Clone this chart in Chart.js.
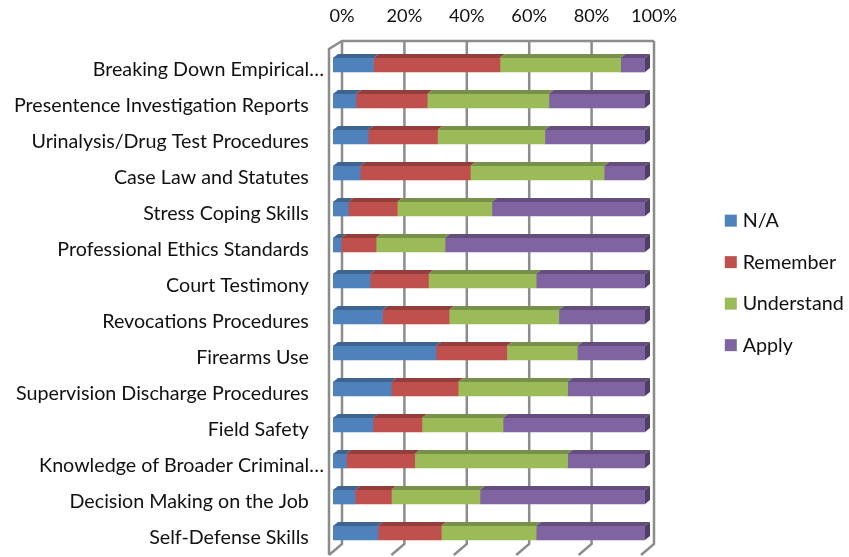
<!DOCTYPE html>
<html>
<head>
<meta charset="utf-8">
<script src="https://cdn.jsdelivr.net/npm/chart.js@4"></script>
<style>
    html, body { margin: 0; padding: 0; background: #fff; }
    #wrap { width: 849px; height: 557px; }
</style>
</head>
<body>
<div id="wrap"><canvas id="skillsChart"></canvas></div>
<script>
const categories = [
    'Breaking Down Empirical…',
    'Presentence Investigation Reports',
    'Urinalysis/Drug Test Procedures',
    'Case Law and Statutes',
    'Stress Coping Skills',
    'Professional Ethics Standards',
    'Court Testimony',
    'Revocations Procedures',
    'Firearms Use',
    'Supervision Discharge Procedures',
    'Field Safety',
    'Knowledge of Broader Criminal…',
    'Decision Making on the Job',
    'Self-Defense Skills'
];
const naValues = [13, 7.4, 11.3, 8.7, 4.9, 2.6, 11.9, 15.9, 33, 18.7, 12.8, 4.3, 7.1, 14.4];
const rememberValues = [40.5, 22.8, 22.2, 35.3, 15.7, 11.2, 18.7, 21.3, 22.7, 21.4, 15.7, 21.9, 11.6, 20.3];
const understandValues = [38.7, 39, 34.4, 42.9, 30.3, 22.1, 34.5, 35.2, 22.6, 35.1, 26, 49, 28.4, 30.4];
const applyValues = [7.8, 30.8, 32.1, 13.1, 49.1, 64.1, 34.9, 27.6, 21.7, 24.8, 45.5, 24.8, 52.9, 34.9];

const seriesNames = ['N/A', 'Remember', 'Understand', 'Apply'];
const seriesColors = ['#4f81bd', '#c0504d', '#9bbb59', '#8064a2'];
const topColors = ['#3e6590', '#943e3b', '#78914a', '#634e7e'];
const sideColor = '#4f3f66';
const wallColor = '#8c8c8c';
const labelFont = { family: "Lato, 'Open Sans', sans-serif", size: 19.7 };
const tickFont = { family: "Lato, 'Open Sans', sans-serif", size: 18.2 };

// the old 3D look: back wall, floor ticks, then the top and side faces of each bar
const wallPlugin = {
    id: 'wall',
    afterLayout(chart) {
        const legend = chart.legend;
        legend.left = 707;
        legend.right = 849;
        legend.top = 189;
        legend.bottom = 400;
    },
    beforeDatasetsDraw(chart) {
        const { ctx, chartArea, scales } = chart;
        const backTop = chartArea.top - 6;
        const backBottom = chartArea.bottom - 7;
        ctx.save();
        ctx.strokeStyle = wallColor;
        ctx.lineWidth = 2.5;
        ctx.beginPath();
        scales.x.ticks.forEach(tick => {
            const x = scales.x.getPixelForValue(tick.value);
            ctx.moveTo(x + 9, backTop);
            ctx.lineTo(x + 9, backBottom);
            ctx.lineTo(x - 4, chartArea.bottom + 4);
        });
        ctx.moveTo(chartArea.right + 9, backTop);
        ctx.lineTo(chartArea.left + 9, backTop);
        ctx.lineTo(chartArea.left - 4, chartArea.top + 2);
        ctx.lineTo(chartArea.left - 4, chartArea.bottom + 4);
        ctx.stroke();
        ctx.restore();
    },
    afterDatasetsDraw(chart) {
        const { ctx } = chart;
        const dx = 5;
        const dy = 4;
        ctx.save();
        chart.data.datasets.forEach((dataset, d) => {
            chart.getDatasetMeta(d).data.forEach(bar => {
                const top = bar.y - bar.height / 2;
                ctx.fillStyle = topColors[d];
                ctx.beginPath();
                ctx.moveTo(bar.base, top);
                ctx.lineTo(bar.x, top);
                ctx.lineTo(bar.x + dx, top - dy);
                ctx.lineTo(bar.base + dx, top - dy);
                ctx.closePath();
                ctx.fill();
                if (d === chart.data.datasets.length - 1) {
                    ctx.fillStyle = sideColor;
                    ctx.beginPath();
                    ctx.moveTo(bar.x, top);
                    ctx.lineTo(bar.x + dx, top - dy);
                    ctx.lineTo(bar.x + dx, top + bar.height - dy);
                    ctx.lineTo(bar.x, top + bar.height);
                    ctx.closePath();
                    ctx.fill();
                }
            });
        });
        ctx.restore();
    }
};

const seriesValues = [naValues, rememberValues, understandValues, applyValues];

new Chart(document.getElementById('skillsChart'), {
    type: 'bar',
    data: {
        labels: categories,
        datasets: seriesNames.map((name, i) => ({
            label: name,
            data: seriesValues[i],
            backgroundColor: seriesColors[i],
            borderWidth: 0,
            barThickness: 14
        }))
    },
    options: {
        indexAxis: 'y',
        responsive: true,
        maintainAspectRatio: false,
        animation: false,
        layout: { padding: { right: 204, bottom: 6 } },
        scales: {
            x: {
                position: 'top',
                stacked: true,
                min: 0,
                max: 100,
                afterFit(scale) { scale.height = 47; },
                grid: { display: false },
                border: { display: false },
                ticks: {
                    stepSize: 20,
                    labelOffset: 9,
                    padding: 12,
                    maxRotation: 0,
                    autoSkip: false,
                    color: '#111',
                    font: tickFont,
                    callback: value => value + '%'
                }
            },
            y: {
                stacked: true,
                afterFit(scale) {
                    scale.width = 333;
                    scale.paddingTop = 0;
                    scale.paddingBottom = 0;
                },
                grid: { display: false },
                border: { display: false },
                ticks: {
                    autoSkip: false,
                    labelOffset: 5,
                    padding: 1,
                    color: '#111',
                    font: labelFont,
                    // labels that were not cut short sit a little further from the axis
                    callback(value) {
                        const label = this.getLabelForValue(value);
                        return label.endsWith('…') ? label : label + '   ';
                    }
                }
            }
        },
        plugins: {
            tooltip: { enabled: false },
            legend: {
                position: 'chartArea',
                align: 'start',
                labels: {
                    usePointStyle: true,
                    pointStyle: 'rect',
                    boxWidth: 4,
                    boxHeight: 12,
                    padding: 21.8,
                    color: '#111',
                    font: labelFont
                }
            }
        }
    },
    plugins: [wallPlugin]
});
</script>
</body>
</html>
